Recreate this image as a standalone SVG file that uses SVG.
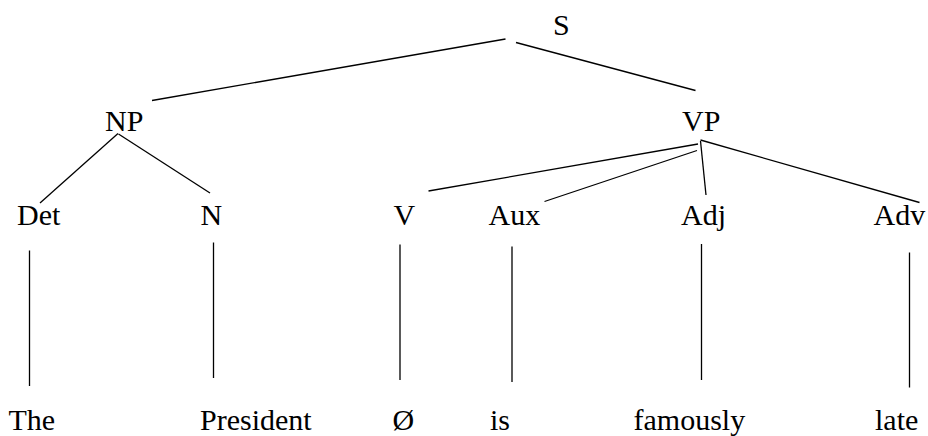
<svg xmlns="http://www.w3.org/2000/svg" width="928" height="436" viewBox="0 0 928 436">
  <style>
    text { font-family: 'Liberation Serif', 'Times New Roman', Times, serif; font-size: 30px; fill: #000; }
    .edge { stroke: #000; stroke-width: 1.3; fill: none; }
  </style>
  <rect width="928" height="436" fill="#fff"/>

  <!-- tree branches -->
  <g id="connectors">
    <line class="edge" x1="505.5" y1="39" x2="152" y2="100.5"/>
    <line class="edge" x1="516" y1="42.5" x2="695.5" y2="90.5"/>
    <line class="edge" x1="118" y1="133.5" x2="40" y2="203"/>
    <line class="edge" x1="118.5" y1="134" x2="210" y2="193"/>
    <line class="edge" x1="698" y1="144" x2="428.5" y2="191"/>
    <line class="edge" x1="697" y1="150.5" x2="544.5" y2="201.5"/>
    <line class="edge" x1="700.5" y1="141" x2="706" y2="195"/>
    <line class="edge" x1="700.5" y1="140" x2="919.5" y2="202.5"/>
    <line class="edge" x1="29.5" y1="250.5" x2="29.5" y2="386"/>
    <line class="edge" x1="213.5" y1="242.5" x2="213.5" y2="378"/>
    <line class="edge" x1="400" y1="244.5" x2="400" y2="380"/>
    <line class="edge" x1="512" y1="246.5" x2="512" y2="382"/>
    <line class="edge" x1="701.5" y1="244" x2="701.5" y2="380"/>
    <line class="edge" x1="909.5" y1="252.5" x2="909.5" y2="387.5"/>
  </g>

  <!-- phrase nodes -->
  <g id="node-S"><text x="553" y="35">S</text></g>
  <g id="node-NP"><text x="105" y="131">NP</text></g>
  <g id="node-VP"><text x="682" y="131">VP</text></g>

  <!-- category nodes -->
  <g id="node-Det"><text x="17" y="225">Det</text></g>
  <g id="node-N"><text x="200.5" y="225">N</text></g>
  <g id="node-V"><text x="393.5" y="225">V</text></g>
  <g id="node-Aux"><text x="488.5" y="225">Aux</text></g>
  <g id="node-Adj"><text x="681" y="225">Adj</text></g>
  <g id="node-Adv"><text x="873.5" y="225">Adv</text></g>

  <!-- words -->
  <g id="leaf-The"><text x="8.5" y="430">The</text></g>
  <g id="leaf-President"><text x="200" y="430">President</text></g>
  <g id="leaf-null"><text x="392.5" y="430">Ø</text></g>
  <g id="leaf-is"><text x="490" y="430">is</text></g>
  <g id="leaf-famously"><text x="633.5" y="430">famously</text></g>
  <g id="leaf-late"><text x="875" y="430">late</text></g>
</svg>
